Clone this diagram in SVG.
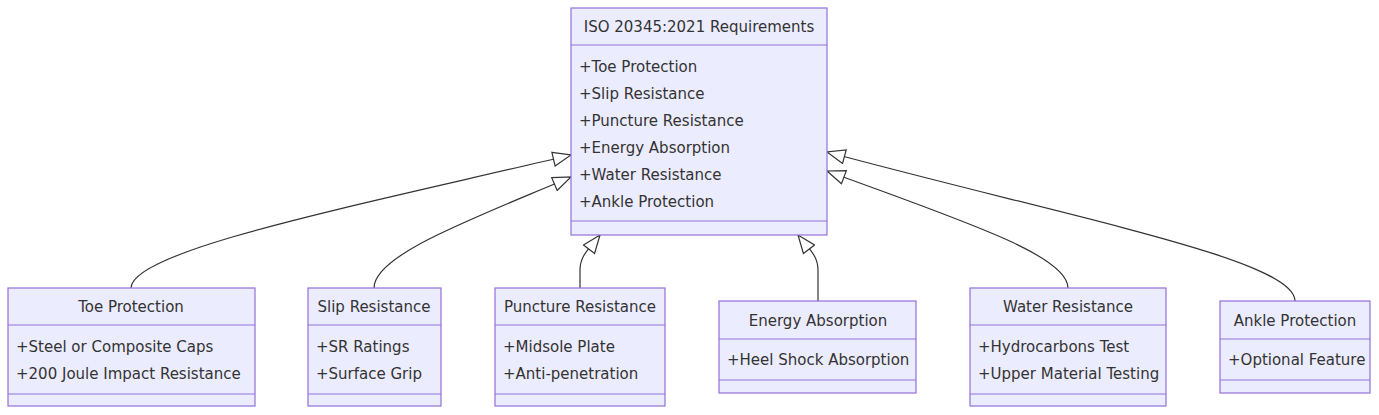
<svg xmlns="http://www.w3.org/2000/svg" width="1379" height="415" viewBox="0 0 1379 415">
<style>
.box{fill:#ECECFF;stroke:#9370DB;stroke-width:1.2}
.ln{stroke:#9370DB;stroke-width:1.2}
text{font-family:"DejaVu Sans",Verdana,sans-serif;font-size:15px;fill:#333}
.t{text-anchor:middle}
.c{fill:none;stroke:#333;stroke-width:1.2}
</style>
<defs>
<marker id="tri" viewBox="0 0 20 16" refX="19" refY="8" markerWidth="20" markerHeight="16" markerUnits="userSpaceOnUse" orient="auto">
<path d="M1,1 L19,8 L1,15 Z" fill="#fff" stroke="#333" stroke-width="1.2"/>
</marker>
</defs>
<g id="connectors">
<path class="c" marker-end="url(#tri)" d="M131,288 C131,250 360,205 571,155"/>
<path class="c" marker-end="url(#tri)" d="M374,288 C374,255 470,220 571,177"/>
<path class="c" marker-end="url(#tri)" d="M580,288 L580,270 C580,255 590,248 600,235"/>
<path class="c" marker-end="url(#tri)" d="M818,301 L818,270 C818,255 808,248 798,235"/>
<path class="c" marker-end="url(#tri)" d="M1068,288 C1068,255 960,220 827,171"/>
<path class="c" marker-end="url(#tri)" d="M1295,301 C1295,260 1080,220 827,152"/>
</g>
<g id="iso">
<rect class="box" x="571" y="8" width="256" height="227"/>
<line class="ln" x1="571" y1="45" x2="827" y2="45"/>
<line class="ln" x1="571" y1="221" x2="827" y2="221"/>
<text class="t" x="699" y="32">ISO 20345:2021 Requirements</text>
<text x="579" y="72">+Toe Protection</text>
<text x="579" y="99">+Slip Resistance</text>
<text x="579" y="126">+Puncture Resistance</text>
<text x="579" y="153">+Energy Absorption</text>
<text x="579" y="180">+Water Resistance</text>
<text x="579" y="207">+Ankle Protection</text>
</g>
<g id="toe">
<rect class="box" x="8" y="288" width="247" height="118"/>
<line class="ln" x1="8" y1="325" x2="255" y2="325"/>
<line class="ln" x1="8" y1="394" x2="255" y2="394"/>
<text class="t" x="131" y="312">Toe Protection</text>
<text x="16" y="352">+Steel or Composite Caps</text>
<text x="16" y="379">+200 Joule Impact Resistance</text>
</g>
<g id="slip">
<rect class="box" x="308" y="288" width="133" height="118"/>
<line class="ln" x1="308" y1="325" x2="441" y2="325"/>
<line class="ln" x1="308" y1="394" x2="441" y2="394"/>
<text class="t" x="374" y="312">Slip Resistance</text>
<text x="316" y="352">+SR Ratings</text>
<text x="316" y="379">+Surface Grip</text>
</g>
<g id="puncture">
<rect class="box" x="495" y="288" width="170" height="118"/>
<line class="ln" x1="495" y1="325" x2="665" y2="325"/>
<line class="ln" x1="495" y1="394" x2="665" y2="394"/>
<text class="t" x="580" y="312">Puncture Resistance</text>
<text x="503" y="352">+Midsole Plate</text>
<text x="503" y="379">+Anti-penetration</text>
</g>
<g id="energy">
<rect class="box" x="719" y="301" width="197" height="92"/>
<line class="ln" x1="719" y1="339" x2="916" y2="339"/>
<line class="ln" x1="719" y1="380" x2="916" y2="380"/>
<text class="t" x="818" y="326">Energy Absorption</text>
<text x="727" y="365">+Heel Shock Absorption</text>
</g>
<g id="water">
<rect class="box" x="970" y="288" width="196" height="118"/>
<line class="ln" x1="970" y1="325" x2="1166" y2="325"/>
<line class="ln" x1="970" y1="394" x2="1166" y2="394"/>
<text class="t" x="1068" y="312">Water Resistance</text>
<text x="978" y="352">+Hydrocarbons Test</text>
<text x="978" y="379">+Upper Material Testing</text>
</g>
<g id="ankle">
<rect class="box" x="1220" y="301" width="150" height="92"/>
<line class="ln" x1="1220" y1="339" x2="1370" y2="339"/>
<line class="ln" x1="1220" y1="380" x2="1370" y2="380"/>
<text class="t" x="1295" y="326">Ankle Protection</text>
<text x="1228" y="365">+Optional Feature</text>
</g>
</svg>
